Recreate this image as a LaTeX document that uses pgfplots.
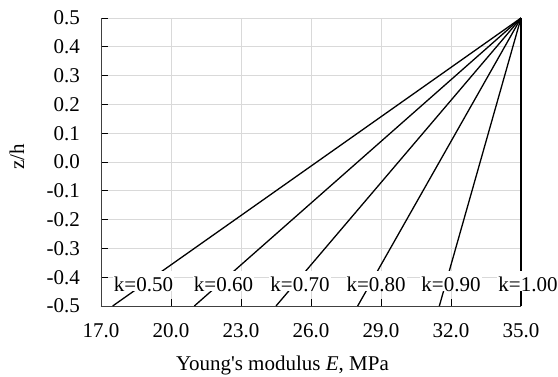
\documentclass[border=0pt]{standalone}
\usepackage{pgfplots}
\pgfplotsset{compat=1.18}
\usepackage{fontspec}
\setmainfont{Liberation Serif}
\begin{document}
\begin{tikzpicture}[font=\fontsize{21}{25}\selectfont]
\begin{axis}[
  at={(0pt,0pt)}, anchor=south west,
  scale only axis, width=420pt, height=288pt,
  xmin=17, xmax=35, ymin=-0.5, ymax=0.5,
  axis lines=left,
  axis line style={-, black!75, line width=0.9pt},
  xtick={17,20,23,26,29,32,35},
  xticklabels={17.0,20.0,23.0,26.0,29.0,32.0,35.0},
  ytick={-0.5,-0.4,-0.3,-0.2,-0.1,0,0.1,0.2,0.3,0.4,0.5},
  yticklabels={-0.5,-0.4,-0.3,-0.2,-0.1,0.0,0.1,0.2,0.3,0.4,0.5},
  tick align=inside,
  major tick length=7pt,
  tick style={black, line width=0.9pt},
  xmajorgrids, ymajorgrids,
  grid style={black!15, line width=0.8pt},
  xticklabel style={anchor=north, inner sep=0pt, yshift=-17pt},
  yticklabel style={anchor=east, inner sep=0pt, xshift=-21pt},
  xlabel={Young\textquotesingle s modulus \textit{E}, MPa},
  xlabel style={at={(axis description cs:0.432,0)}, anchor=base, yshift=-64pt, inner sep=0pt},
  ylabel={z/h},
  ylabel style={at={(axis description cs:-0.2,0.517)}, anchor=center, rotate=0},
  clip=false,
]
\addplot[black, line width=1.3pt] coordinates {(17.5,-0.5) (35,0.5)};
\addplot[black, line width=1.3pt] coordinates {(21,-0.5) (35,0.5)};
\addplot[black, line width=1.3pt] coordinates {(24.5,-0.5) (35,0.5)};
\addplot[black, line width=1.3pt] coordinates {(28,-0.5) (35,0.5)};
\addplot[black, line width=1.3pt] coordinates {(31.5,-0.5) (35,0.5)};
\addplot[black, line width=1.3pt] coordinates {(35,-0.5) (35,0.5)};
\foreach \xx/\lab in {18.82/0.50, 22.25/0.60, 25.53/0.70, 28.79/0.80, 32.0/0.90, 35.3/1.00} {
  \edef\tmp{\noexpand\node[anchor=base, fill=white, inner xsep=1pt, inner ysep=0pt, text height=20pt, text depth=0pt] at (axis cs:\xx,-0.448) {k=\lab};}
  \tmp
}
\end{axis}
\pgfresetboundingbox
\path (-101pt,-70pt) rectangle (457pt,306pt);
\end{tikzpicture}
\end{document}
